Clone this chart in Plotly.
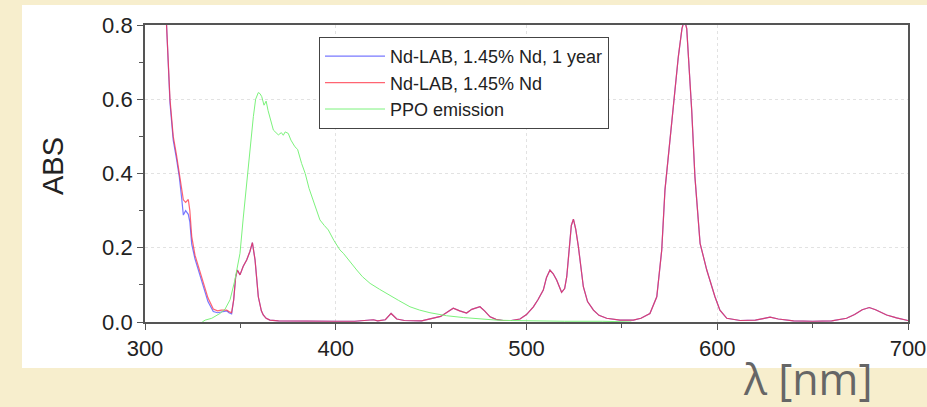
import plotly.graph_objects as go

# ---------------- data ----------------
wl_nd = [309, 311.3, 313.1, 314.8, 316.5, 318, 319.3, 320.1, 321.3, 322.7, 323.5, 324.5, 326.2,
         328.5, 330.6, 333, 335.8, 338, 340, 342.8, 344, 345.4, 346.5, 347.5, 348.4, 349.8,
         351.5, 353.3, 355, 356.3, 357.7, 359.4, 361, 362, 363.5, 365.5, 370, 380, 390, 400,
         410, 419.7, 422, 426, 429, 432, 436, 445, 455, 461.6, 465, 468.6, 471.3, 475.6, 478,
         480.9, 484, 487.8, 492, 496.6, 500, 503.6, 506, 508.8, 510.5, 512.3, 514, 515.8,
         518.4, 520, 521.1, 522.5, 523.5, 524.6, 525.8, 527.2, 529.8, 532, 535.1, 538, 542,
         549, 556, 560, 564.7, 568.3, 570.9, 572.6, 574.9, 577, 579.6, 581.5, 582.8, 584,
         584.9, 586.6, 588.3, 591, 594.5, 598.8, 601.4, 605, 612, 620, 624, 627.7, 632, 640,
         650, 660, 667.8, 672, 676, 679.7, 683, 688.8, 694, 699.3, 700]

abs_fresh = [0.95, 0.80, 0.60, 0.50, 0.45, 0.40, 0.36, 0.329, 0.322, 0.33, 0.30, 0.23, 0.18,
             0.14, 0.10, 0.065, 0.035, 0.030, 0.032, 0.032, 0.028, 0.025, 0.06, 0.12, 0.14, 0.127,
             0.15, 0.167, 0.19, 0.214, 0.167, 0.068, 0.03, 0.019, 0.01, 0.005, 0.003, 0.002, 0.003, 0.002,
             0.002, 0.006, 0.003, 0.006, 0.023, 0.008, 0.004, 0.003, 0.015, 0.037, 0.03, 0.024, 0.034, 0.041, 0.03,
             0.014, 0.007, 0.004, 0.004, 0.008, 0.02, 0.041, 0.06, 0.086, 0.12, 0.14, 0.13, 0.113,
             0.08, 0.09, 0.122, 0.2, 0.26, 0.277, 0.25, 0.203, 0.095, 0.055, 0.032, 0.018, 0.01,
             0.005, 0.005, 0.01, 0.023, 0.068, 0.194, 0.356, 0.481, 0.589, 0.715, 0.79, 0.815, 0.79,
             0.715, 0.571, 0.391, 0.212, 0.14, 0.068, 0.032, 0.01, 0.004, 0.005, 0.009, 0.013, 0.008, 0.003,
             0.002, 0.003, 0.01, 0.02, 0.033, 0.039, 0.033, 0.019, 0.011, 0.005, 0.004]

abs_1year = [0.95, 0.80, 0.59, 0.49, 0.44, 0.39, 0.33, 0.288, 0.30, 0.29, 0.27, 0.21, 0.17,
             0.13, 0.09, 0.055, 0.028, 0.025, 0.027, 0.030, 0.025, 0.022, 0.06, 0.12, 0.14, 0.127,
             0.15, 0.167, 0.19, 0.214, 0.167, 0.068, 0.03, 0.019, 0.01, 0.005, 0.003, 0.002, 0.003, 0.002,
             0.002, 0.006, 0.003, 0.006, 0.023, 0.008, 0.004, 0.003, 0.015, 0.037, 0.03, 0.024, 0.034, 0.041, 0.03,
             0.014, 0.007, 0.004, 0.004, 0.008, 0.02, 0.041, 0.06, 0.086, 0.12, 0.14, 0.13, 0.113,
             0.08, 0.09, 0.122, 0.2, 0.26, 0.277, 0.25, 0.203, 0.095, 0.055, 0.032, 0.018, 0.01,
             0.005, 0.005, 0.01, 0.023, 0.068, 0.194, 0.356, 0.481, 0.589, 0.715, 0.79, 0.815, 0.79,
             0.715, 0.571, 0.391, 0.212, 0.14, 0.068, 0.032, 0.01, 0.004, 0.005, 0.009, 0.013, 0.008, 0.003,
             0.002, 0.003, 0.01, 0.02, 0.033, 0.039, 0.033, 0.019, 0.011, 0.005, 0.004]

wl_ppo = [330, 331.5, 335, 339.3, 342, 344.6, 347, 349.8, 351.5, 353.3, 355, 356.8, 358, 359.4,
          360.3, 361.2, 362.4, 363.5, 364.5, 366, 367.3, 369.9, 371.5, 372.5, 373.5, 375.1, 376.5,
          378.6, 380, 382.1, 384, 386, 388.2, 390, 391.7, 394, 396.1, 399, 402.2, 404, 407, 411,
          414, 418, 423, 428.4, 433, 438.9, 444, 449.4, 458, 466.9, 475, 484.4, 492, 501.8, 520,
          540, 550, 555]
ppo_emission = [0.0, 0.005, 0.01, 0.023, 0.035, 0.06, 0.11, 0.185, 0.28, 0.38, 0.47, 0.553, 0.60, 0.618,
                0.615, 0.607, 0.584, 0.595, 0.57, 0.54, 0.517, 0.504, 0.51, 0.503, 0.512, 0.508, 0.49,
                0.472, 0.465, 0.427, 0.40, 0.36, 0.329, 0.30, 0.275, 0.26, 0.248, 0.22, 0.194, 0.185, 0.165, 0.14,
                0.122, 0.104, 0.088, 0.073, 0.058, 0.041, 0.032, 0.025, 0.017, 0.012, 0.008, 0.005, 0.004, 0.003, 0.002,
                0.002, 0.001, 0.0]

series_names = ["Nd-LAB, 1.45% Nd, 1 year", "Nd-LAB, 1.45% Nd", "PPO emission"]
x_ticks = [300, 400, 500, 600, 700]
y_ticks = [0.0, 0.2, 0.4, 0.6, 0.8]

# ---------------- figure ----------------
fig = go.Figure()
fig.add_trace(go.Scatter(x=wl_nd, y=abs_1year, mode="lines", name=series_names[0],
                         line=dict(color="#7878ff", width=1.2)))
fig.add_trace(go.Scatter(x=wl_nd, y=abs_fresh, mode="lines", name=series_names[1],
                         line=dict(color="rgba(255,40,60,0.72)", width=1.2)))
fig.add_trace(go.Scatter(x=wl_ppo, y=ppo_emission, mode="lines", name=series_names[2],
                         line=dict(color="#7cf27c", width=1.0)))

L, R, T, B = 145, 19, 25, 85
W, H = 927, 407
pw, ph = W - L - R, H - T - B


def px(xp):
    return (xp - L) / pw


def py(yp):
    return (H - B - yp) / ph


FONT = "Liberation Sans, Arial, sans-serif"
axis_common = dict(
    showline=True, linecolor="#555555", linewidth=1.8, mirror=True,
    ticks="outside", ticklen=6, tickwidth=1.4, tickcolor="#555555",
    showgrid=True, gridcolor="#e2e2e2", griddash="dot", gridwidth=1,
    zeroline=False, automargin=False,
    tickfont=dict(family=FONT, size=22, color="#222222"),
)

fig.update_layout(
    width=W, height=H, autosize=False,
    margin=dict(l=L, r=R, t=T, b=B),
    paper_bgcolor="#f7eecd",
    plot_bgcolor="white",
    showlegend=True,
    legend=dict(x=px(319), y=py(37), xanchor="left", yanchor="top",
                bgcolor="white", bordercolor="#444444", borderwidth=1,
                font=dict(family=FONT, size=18, color="#222222"),
                tracegroupgap=0, itemwidth=60),
    xaxis=dict(range=[300, 700], tickvals=x_ticks,
               minor=dict(dtick=50, ticks="outside", ticklen=4, tickcolor="#555555", showgrid=False),
               **axis_common),
    yaxis=dict(range=[0, 0.8], tickvals=y_ticks, tickformat=".1f",
               minor=dict(dtick=0.1, ticks="outside", ticklen=4, tickcolor="#555555", showgrid=False),
               **axis_common),
    shapes=[dict(type="rect", xref="paper", yref="paper",
                 x0=px(22), x1=px(930), y0=py(368), y1=py(5),
                 fillcolor="white", line=dict(width=0), layer="below")],
    annotations=[
        dict(text="λ [nm]", xref="paper", yref="paper", x=px(808), y=py(378),
             showarrow=False, xanchor="center", yanchor="middle",
             font=dict(family="Open Sans, sans-serif", size=43, color="#666666")),
        dict(text="ABS", xref="paper", yref="paper", x=px(53), y=py(166),
             textangle=-90, showarrow=False, xanchor="center", yanchor="middle",
             font=dict(family=FONT, size=29, color="#222222")),
    ],
)

fig.write_html("out.html",
               config={"responsive": False, "displayModeBar": False},
               post_script="document.body.style.margin='0px';document.body.style.overflow='hidden';")
